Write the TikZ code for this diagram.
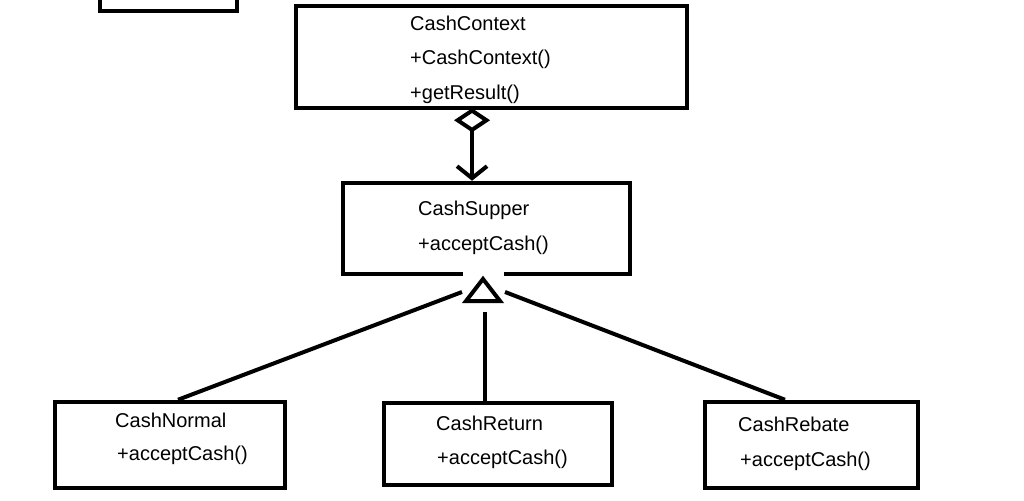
\documentclass[tikz,border=0pt]{standalone}
\usepackage{fontspec}
\setmainfont{Liberation Sans}
\usetikzlibrary{arrows.meta,fit}
\begin{document}
\begin{tikzpicture}[x=1pt,y=-1pt,
  box/.style={draw,line width=4.5pt,inner sep=0pt},
  lbl/.style={anchor=west,inner sep=0pt,font=\fontsize{20}{22}\selectfont},
  conn/.style={line width=4pt},
  agg/.style={line width=4pt,
    {Diamond[open,length=24pt,width=36pt,line width=4pt]}-{Straight Barb[length=12pt,width=30pt,line width=4pt]}},
  tri/.style={line width=4pt,fill=white}]
\useasboundingbox (0,0) rectangle (1024,500);
\fill[white] (0,0) rectangle (1024,500);
\begin{scope}
  \clip (0,0) rectangle (1024,500);
  \node[box,fit={(100,-30) (237,11)}] (topbox) {};
\end{scope}
% CashContext
\node[box,fit={(296,6) (687,108)}] (ctx) {};
\node[lbl] (ctxname) at (410,23) {CashContext};
\node[lbl] (ctxm1) at (410,59) {+CashContext()};
\node[lbl] (ctxm2) at (410,94) {+getResult()};
% CashSupper
\node[box,fit={(343,183) (630,274)}] (sup) {};
\node[lbl] (supname) at (418,210) {CashSupper};
\node[lbl] (supm1) at (418,245) {+acceptCash()};
% subclasses
\node[box,fit={(55,402) (285,488)}] (norm) {};
\node[lbl] (normname) at (115,420) {CashNormal};
\node[lbl] (normm1) at (117,455) {+acceptCash()};
\node[box,fit={(384,403) (612,485)}] (ret) {};
\node[lbl] (retname) at (436,423) {CashReturn};
\node[lbl] (retm1) at (437,459) {+acceptCash()};
\node[box,fit={(705,402) (918,488)}] (reb) {};
\node[lbl] (rebname) at (738,424) {CashRebate};
\node[lbl] (rebm1) at (740,461) {+acceptCash()};
% aggregation
\draw[agg] ([xshift=-19.5pt,yshift=2pt]ctx.south) -- ([xshift=-14.5pt]sup.north);
% generalization
\fill[white] (463,271) rectangle (504,278);
\coordinate (tA) at (483,279);
\coordinate (tL) at (462,292);
\coordinate (tM) at (485,312);
\coordinate (tR) at (505,292);
\draw[tri] (tA) -- (500,301) -- (466,301) -- cycle;
\draw[conn] (tL) -- ([xshift=8pt]norm.north);
\draw[conn] (tM) -- ([xshift=-13pt]ret.north);
\draw[conn] (tR) -- ([xshift=-26.5pt]reb.north);
\end{tikzpicture}
\end{document}
